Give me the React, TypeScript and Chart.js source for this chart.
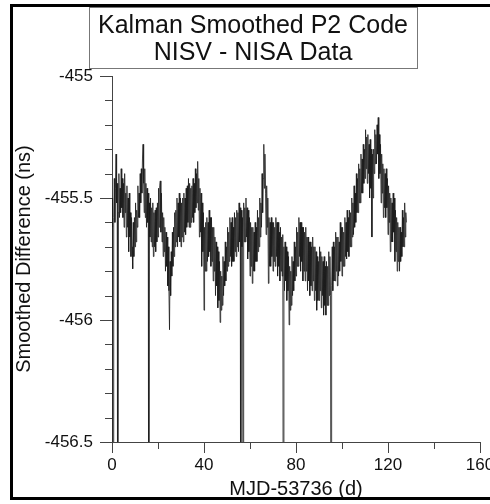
import React, { useEffect, useRef } from 'react';
import { Chart, registerables } from 'chart.js';

Chart.register(...registerables);

const TITLE_LINES = ['Kalman Smoothed P2 Code', 'NISV - NISA Data'];
const X_TITLE = 'MJD-53736 (d)';
const Y_TITLE = 'Smoothed Difference (ns)';
const X_TICKS = [0, 40, 80, 120, 160];
const X_MINOR_TICKS = [20, 60, 100, 140];
const Y_TICKS = [-456.5, -456, -455.5, -455];
const Y_MINOR_TICKS = [
  -455.1, -455.2, -455.3, -455.4, -455.6, -455.7, -455.8, -455.9, -456.1, -456.2, -456.3, -456.4,
];
const SAMPLE_STEP_DAYS = 0.25;

// smoothed difference in ns, one value every quarter day starting at day 0 (4 per row = 1 day)
const SMOOTHED_DIFF = [
  -455.50, -455.62, -457.5, -455.58,
  -455.42, -455.60, -455.46, -455.32,
  -455.52, -455.44, -457.5, -455.56,
  -455.40, -455.58, -455.46, -455.56,
  -455.38, -455.54, -455.42, -455.58,
  -455.44, -455.62, -455.40, -455.56,
  -455.48, -455.66, -455.45, -455.62,
  -455.50, -455.72, -455.48, -455.66,
  -455.56, -455.74, -455.58, -455.70,
  -455.79, -455.60, -455.74, -455.58,
  -455.70, -455.52, -455.68, -455.55,
  -455.62, -455.45, -455.58, -455.48,
  -455.58, -455.40, -455.52, -455.38,
  -455.48, -455.34, -455.28, -455.44,
  -455.56, -455.38, -455.58, -455.44,
  -455.62, -455.46, -455.60, -455.48,
  -457.5, -455.52, -455.66, -455.50,
  -455.68, -455.54, -455.70, -455.52,
  -455.74, -455.56, -455.70, -455.55,
  -455.72, -455.54, -455.68, -455.52,
  -455.66, -455.46, -455.62, -455.45,
  -455.43, -455.64, -455.48, -455.68,
  -455.56, -455.74, -455.58, -455.72,
  -455.62, -455.80, -455.64, -455.78,
  -455.66, -455.86, -455.70, -455.88,
  -456.04, -455.76, -455.90, -455.72,
  -455.82, -455.64, -455.78, -455.62,
  -455.74, -455.56, -455.70, -455.55,
  -455.68, -455.50, -455.70, -455.52,
  -455.66, -455.48, -455.68, -455.50,
  -455.70, -455.52, -455.66, -455.50,
  -455.68, -455.48, -455.64, -455.50,
  -455.65, -455.46, -455.62, -455.45,
  -455.60, -455.42, -455.62, -455.44,
  -455.62, -455.46, -455.60, -455.45,
  -455.58, -455.42, -455.60, -455.44,
  -455.56, -455.38, -455.54, -455.40,
  -455.52, -455.35, -455.55, -455.42,
  -455.66, -455.46, -455.64, -455.48,
  -455.78, -455.52, -455.72, -455.56,
  -455.96, -455.62, -455.80, -455.60,
  -455.80, -455.58, -455.76, -455.60,
  -455.74, -455.55, -455.72, -455.58,
  -455.78, -455.58, -455.76, -455.62,
  -455.84, -455.62, -455.80, -455.66,
  -455.90, -455.68, -455.86, -455.70,
  -455.95, -455.72, -455.92, -455.76,
  -456.01, -455.80, -455.96, -455.82,
  -455.94, -455.74, -455.90, -455.76,
  -455.86, -455.68, -455.84, -455.70,
  -455.80, -455.62, -455.78, -455.64,
  -455.76, -455.58, -455.74, -455.60,
  -455.78, -455.58, -455.76, -455.62,
  -455.76, -455.56, -455.72, -455.58,
  -455.74, -455.55, -455.70, -455.56,
  -455.72, -455.52, -455.68, -455.54,
  -457.5, -455.55, -455.70, -455.58,
  -457.5, -455.52, -455.68, -455.54,
  -455.68, -455.50, -455.66, -455.54,
  -455.75, -455.55, -455.72, -455.58,
  -455.82, -455.60, -455.78, -455.62,
  -455.85, -455.62, -455.80, -455.64,
  -455.80, -455.60, -455.76, -455.62,
  -455.76, -455.55, -455.72, -455.58,
  -455.70, -455.50, -455.66, -455.52,
  -455.62, -455.40, -455.56, -455.42,
  -455.28, -455.46, -455.32, -455.48,
  -455.65, -455.45, -455.62, -455.50,
  -455.85, -455.58, -455.78, -455.60,
  -455.78, -455.58, -455.74, -455.60,
  -455.80, -455.60, -455.76, -455.62,
  -455.78, -455.58, -455.74, -455.60,
  -455.82, -455.60, -455.78, -455.64,
  -455.84, -455.62, -455.80, -455.66,
  -455.82, -455.65, -457.5, -455.70,
  -455.88, -455.68, -455.84, -455.70,
  -455.92, -455.72, -455.88, -455.74,
  -456.02, -455.78, -455.96, -455.80,
  -455.94, -455.74, -455.90, -455.76,
  -455.88, -455.68, -455.84, -455.70,
  -455.82, -455.62, -455.78, -455.64,
  -455.78, -455.58, -455.74, -455.60,
  -455.80, -455.60, -455.76, -455.62,
  -455.84, -455.62, -455.80, -455.64,
  -455.84, -455.62, -455.80, -455.66,
  -455.88, -455.66, -455.84, -455.68,
  -455.90, -455.68, -455.86, -455.70,
  -455.88, -455.66, -455.84, -455.70,
  -455.92, -455.70, -455.88, -455.72,
  -455.96, -455.74, -455.92, -455.76,
  -455.92, -455.70, -455.88, -455.72,
  -455.95, -455.74, -455.90, -455.76,
  -455.98, -455.74, -455.94, -455.78,
  -455.98, -455.76, -455.94, -455.78,
  -455.94, -455.72, -455.90, -455.74,
  -455.90, -457.5, -455.86, -455.70,
  -455.88, -455.68, -455.84, -455.70,
  -455.84, -455.64, -455.80, -455.66,
  -455.86, -455.66, -455.82, -455.68,
  -455.80, -455.60, -455.76, -455.62,
  -455.82, -455.62, -455.78, -455.64,
  -455.78, -455.58, -455.74, -455.60,
  -455.75, -455.55, -455.72, -455.58,
  -455.74, -455.55, -455.70, -455.56,
  -455.70, -455.50, -455.66, -455.52,
  -455.65, -455.45, -455.62, -455.48,
  -455.60, -455.40, -455.56, -455.42,
  -455.56, -455.36, -455.52, -455.38,
  -455.52, -455.32, -455.48, -455.34,
  -455.48, -455.28, -455.44, -455.30,
  -455.42, -455.22, -455.38, -455.25,
  -455.44, -455.24, -455.40, -455.28,
  -455.50, -455.26, -455.46, -455.30,
  -455.66, -455.32, -455.50, -455.30,
  -455.40, -455.22, -455.36, -455.24,
  -455.36, -455.20, -455.32, -455.17,
  -455.42, -455.24, -455.40, -455.28,
  -455.52, -455.32, -455.48, -455.36,
  -455.58, -455.38, -455.54, -455.40,
  -455.58, -455.38, -455.54, -455.42,
  -455.65, -455.45, -455.60, -455.48,
  -455.72, -455.50, -455.68, -455.52,
  -455.68, -455.48, -455.64, -455.50,
  -455.76, -455.55, -455.72, -455.58,
  -455.80, -455.60, -455.76, -455.62,
  -455.80, -455.62, -455.76, -455.64,
  -455.74, -455.55, -455.70, -455.58,
  -455.70, -455.52, -455.66, -455.56,
  -455.60,
];

const FONT = 'Arial, "Liberation Sans", sans-serif';
const AXIS_COLOR = '#444';
const TEXT_COLOR = '#111';

const framePlugin = {
  id: 'frameAndTitle',
  afterDraw(chart: any) {
    const { ctx } = chart;
    ctx.save();
    // outer frame
    ctx.fillStyle = '#000';
    ctx.fillRect(10, 4, 480, 3);
    ctx.fillRect(10, 4, 3, 496);
    ctx.fillRect(10, 497, 480, 3);
    // title box
    ctx.strokeStyle = '#777';
    ctx.lineWidth = 1;
    ctx.strokeRect(89.5, 7.5, 328, 61);
    ctx.fillStyle = TEXT_COLOR;
    ctx.font = `25px ${FONT}`;
    ctx.textAlign = 'center';
    ctx.textBaseline = 'alphabetic';
    ctx.fillText(TITLE_LINES[0], 253, 33);
    ctx.fillText(TITLE_LINES[1], 253, 60);
    // minor ticks
    const xs = chart.scales.x;
    const ys = chart.scales.y;
    ctx.strokeStyle = AXIS_COLOR;
    ctx.lineWidth = 1;
    ctx.beginPath();
    for (const v of X_MINOR_TICKS) {
      const px = Math.round(xs.getPixelForValue(v)) + 0.5;
      ctx.moveTo(px, xs.top);
      ctx.lineTo(px, xs.top + 7);
    }
    for (const v of Y_MINOR_TICKS) {
      const py = Math.round(ys.getPixelForValue(v)) + 0.5;
      ctx.moveTo(ys.right - 7, py);
      ctx.lineTo(ys.right, py);
    }
    ctx.stroke();
    ctx.restore();
  },
};

export default function App() {
  const ref = useRef<HTMLCanvasElement | null>(null);

  useEffect(() => {
    if (!ref.current) return;
    const points = SMOOTHED_DIFF.map((v, i) => ({ x: i * SAMPLE_STEP_DAYS, y: v }));
    const chart = new Chart(ref.current, {
      type: 'line',
      data: {
        datasets: [
          {
            data: points,
            borderColor: '#1a1a1a',
            borderWidth: 0.8,
            pointRadius: 0,
            tension: 0,
            fill: false,
          },
        ],
      },
      options: {
        animation: false,
        responsive: false,
        devicePixelRatio: 1,
        layout: { padding: { top: 76, right: 10, left: 0, bottom: 0 } },
        plugins: {
          legend: { display: false },
          title: { display: false },
          tooltip: { enabled: false },
        },
        scales: {
          x: {
            type: 'linear',
            min: 0,
            max: 160,
            afterBuildTicks: (s: any) => {
              s.ticks = X_TICKS.map((v) => ({ value: v }));
            },
            afterFit: (s: any) => {
              s.height = 62;
              s.paddingLeft = 0;
              s.paddingRight = 0;
            },
            ticks: {
              color: TEXT_COLOR,
              font: { family: FONT, size: 17 },
              padding: 2,
              maxRotation: 0,
              autoSkip: false,
              callback: (v: any) => String(v),
            },
            grid: {
              display: true,
              drawOnChartArea: false,
              drawTicks: true,
              tickLength: 11,
              color: AXIS_COLOR,
            },
            border: { display: true, color: AXIS_COLOR },
            title: {
              display: true,
              text: X_TITLE,
              color: TEXT_COLOR,
              font: { family: FONT, size: 20 },
              padding: { top: 0, bottom: 3 },
            },
          },
          y: {
            type: 'linear',
            min: -456.5,
            max: -455,
            afterBuildTicks: (s: any) => {
              s.ticks = Y_TICKS.map((v) => ({ value: v }));
            },
            afterFit: (s: any) => {
              s.width = 112;
              s.paddingTop = 0;
              s.paddingBottom = 0;
            },
            ticks: {
              color: TEXT_COLOR,
              font: { family: FONT, size: 17 },
              padding: 7,
              autoSkip: false,
              callback: (v: any) => String(v),
            },
            grid: {
              display: true,
              drawOnChartArea: false,
              drawTicks: true,
              tickLength: 12,
              color: AXIS_COLOR,
            },
            border: { display: true, color: AXIS_COLOR },
            title: {
              display: true,
              text: Y_TITLE,
              color: TEXT_COLOR,
              font: { family: FONT, size: 20 },
              padding: { top: 12, bottom: 0 },
            },
          },
        },
      },
      plugins: [framePlugin],
    });
    return () => chart.destroy();
  }, []);

  return (
    <div style={{ position: 'fixed', left: 0, top: 0, width: 490, height: 504, background: '#fff' }}>
      <canvas ref={ref} width={490} height={504} style={{ display: 'block' }} />
    </div>
  );
}
